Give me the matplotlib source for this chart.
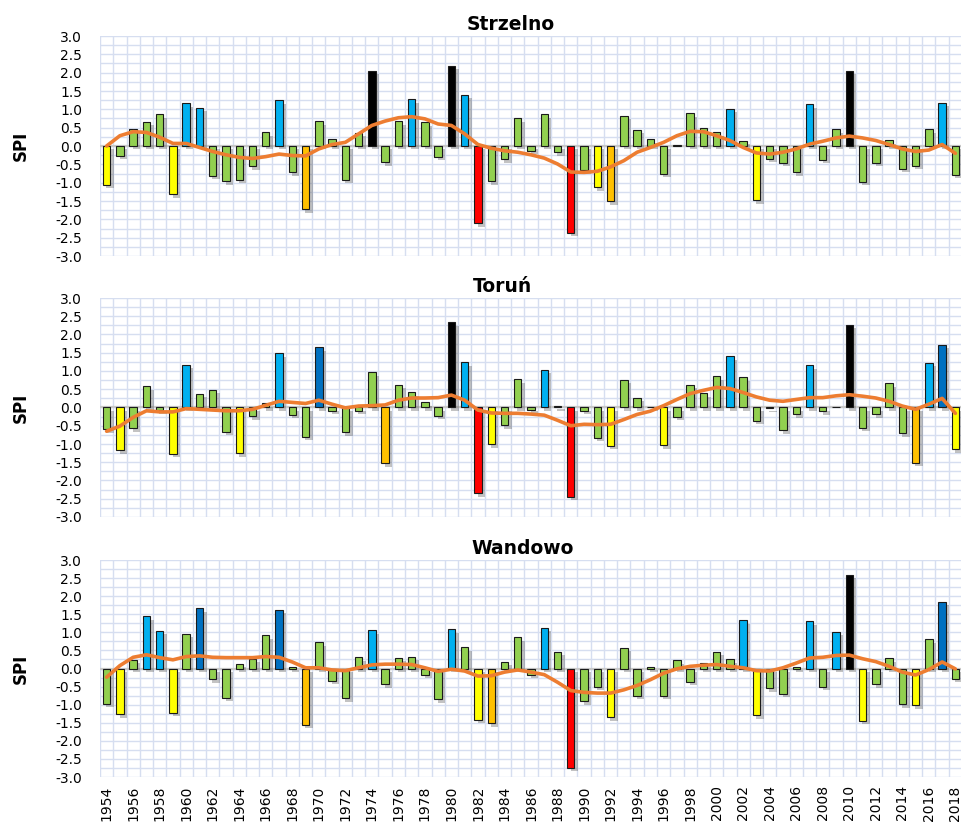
import matplotlib
matplotlib.use("Agg")
import matplotlib.pyplot as plt
import matplotlib.patheffects as pe
import numpy as np

years = list(range(1954, 2019))

stations = ["Strzelno", "Toruń", "Wandowo"]

spi_strzelno = [-1.06, -0.26, 0.47, 0.66, 0.87, -1.32, 1.17, 1.04, -0.81, -0.96,
                -0.92, -0.55, 0.37, 1.25, -0.71, -1.73, 0.68, 0.19, -0.92, 0.36,
                2.05, -0.44, 0.68, 1.28, 0.65, -0.30, 2.19, 1.40, -2.11, -0.96,
                -0.36, 0.76, -0.13, 0.86, -0.17, -2.37, -0.66, -1.13, -1.51, 0.83,
                0.44, 0.18, -0.76, 0.02, 0.89, 0.49, 0.37, 1.01, 0.14, -1.48,
                -0.35, -0.46, -0.71, 1.14, -0.37, 0.46, 2.05, -0.97, -0.46, 0.16,
                -0.62, -0.54, 0.46, 1.18, -0.79]

trend_strzelno = [0.00, 0.28, 0.39, 0.37, 0.24, 0.07, 0.07, -0.04, -0.15, -0.24,
                  -0.31, -0.34, -0.29, -0.22, -0.26, -0.27, -0.08, 0.04, 0.10, 0.33,
                  0.56, 0.68, 0.77, 0.80, 0.74, 0.60, 0.56, 0.33, 0.04, -0.06,
                  -0.13, -0.17, -0.24, -0.33, -0.49, -0.71, -0.72, -0.69, -0.57, -0.40,
                  -0.17, -0.04, 0.10, 0.28, 0.40, 0.39, 0.28, 0.15, -0.04, -0.19,
                  -0.22, -0.17, -0.08, 0.05, 0.13, 0.22, 0.27, 0.22, 0.15, 0.04,
                  -0.08, -0.15, -0.11, 0.04, -0.20]

spi_torun = [-0.60, -1.17, -0.57, 0.58, -0.07, -1.27, 1.17, 0.37, 0.48, -0.66,
             -1.25, -0.24, 0.12, 1.49, -0.20, -0.80, 1.65, -0.09, -0.68, -0.09,
             0.96, -1.53, 0.63, 0.42, 0.14, -0.23, 2.33, 1.24, -2.35, -1.01,
             -0.49, 0.78, -0.06, 1.03, 0.05, -2.44, -0.09, -0.83, -1.05, 0.76,
             0.27, 0.02, -1.03, -0.26, 0.63, 0.39, 0.85, 1.40, 0.83, -0.37,
             -0.02, -0.63, -0.19, 1.16, -0.10, 0.01, 2.26, -0.55, -0.18, 0.67,
             -0.70, -1.52, 1.22, 1.72, -1.14]

trend_torun = [-0.65, -0.51, -0.27, -0.09, -0.12, -0.12, -0.03, -0.05, -0.07, -0.09,
               -0.09, -0.05, 0.06, 0.17, 0.14, 0.11, 0.20, 0.09, -0.01, 0.04,
               0.05, 0.07, 0.20, 0.26, 0.26, 0.27, 0.34, 0.20, -0.07, -0.15,
               -0.16, -0.16, -0.18, -0.21, -0.35, -0.50, -0.46, -0.47, -0.46, -0.33,
               -0.19, -0.10, 0.05, 0.22, 0.38, 0.47, 0.55, 0.52, 0.41, 0.29,
               0.20, 0.17, 0.22, 0.27, 0.27, 0.32, 0.35, 0.31, 0.26, 0.17,
               0.04, -0.05, 0.09, 0.25, -0.16]

spi_wandowo = [-0.97, -1.26, 0.24, 1.44, 1.05, -1.23, 0.96, 1.66, -0.30, -0.81,
               0.13, 0.27, 0.92, 1.63, 0.05, -1.56, 0.73, -0.34, -0.82, 0.31,
               1.06, -0.43, 0.29, 0.33, -0.18, -0.85, 1.08, 0.59, -1.42, -1.51,
               0.18, 0.86, -0.17, 1.12, 0.46, -2.75, -0.90, -0.50, -1.35, 0.57,
               -0.76, 0.05, -0.75, 0.23, -0.36, 0.15, 0.46, 0.26, 1.34, -1.29,
               -0.55, -0.70, 0.05, 1.31, -0.50, 1.02, 2.59, -1.44, -0.44, 0.28,
               -0.99, -1.02, 0.81, 1.84, -0.28]

trend_wandowo = [-0.24, 0.08, 0.31, 0.38, 0.30, 0.24, 0.33, 0.35, 0.31, 0.30,
                 0.30, 0.30, 0.33, 0.31, 0.18, 0.02, 0.02, -0.04, -0.06, 0.02,
                 0.10, 0.12, 0.12, 0.11, 0.02, -0.08, -0.02, -0.07, -0.21, -0.20,
                 -0.10, -0.04, -0.10, -0.17, -0.38, -0.61, -0.66, -0.68, -0.68, -0.59,
                 -0.47, -0.31, -0.13, -0.01, 0.06, 0.09, 0.11, 0.06, 0.02, -0.06,
                 -0.07, 0.02, 0.15, 0.29, 0.31, 0.36, 0.37, 0.27, 0.19, 0.06,
                 -0.10, -0.18, -0.03, 0.18, -0.01]

spi_data = [spi_strzelno, spi_torun, spi_wandowo]
trend_data = [trend_strzelno, trend_torun, trend_wandowo]

y_ticks = [3.0, 2.5, 2.0, 1.5, 1.0, 0.5, 0.0, -0.5, -1.0, -1.5, -2.0, -2.5, -3.0]


def spi_color(v):
    if v <= -2.0:
        return "#FF0000"
    if v <= -1.5:
        return "#FFC000"
    if v <= -1.0:
        return "#FFFF00"
    if v < 1.0:
        return "#92D050"
    if v < 1.5:
        return "#00B0F0"
    if v < 2.0:
        return "#0070C0"
    return "#000000"


W, H = 962, 822
fig = plt.figure(figsize=(W / 100, H / 100), dpi=100)

# panel pixel extents (top, bottom) of the plot area
panels_px = [(36, 256), (298, 517), (560, 777)]
title_x = [0.477, 0.467, 0.490]
left_px, right_px = 100, 962

x = np.arange(len(years))
grid_color = "#D6DEF0"

for k, (name, vals, trend) in enumerate(zip(stations, spi_data, trend_data)):
    top, bot = panels_px[k]
    ax = fig.add_axes([left_px / W, 1 - bot / H, (right_px - left_px) / W, (bot - top) / H])
    ax.set_xlim(-0.5, len(years) - 0.5)
    ax.set_ylim(-3.0, 3.0)

    # grid
    for gx in np.arange(-0.5, len(years) + 0.5, 1.0):
        ax.axvline(gx, color=grid_color, lw=1.0, zorder=0)
    for gy in np.arange(-3.0, 3.01, 0.25):
        ax.axhline(gy, color=grid_color, lw=1.0, zorder=0)
    ax.axhline(0, color="#C8C8C8", lw=1.6, zorder=1)

    colors = [spi_color(v) for v in vals]
    bars = ax.bar(x, vals, width=0.56, color=colors, edgecolor="#1a1a1a",
                  linewidth=0.8, zorder=2)
    for b in bars:
        b.set_path_effects([pe.SimplePatchShadow(offset=(2.5, -2.5), shadow_rgbFace="#555555",
                                                 alpha=0.35), pe.Normal()])

    ax.plot(x, trend, color="#ED7D31", lw=2.6, zorder=4, solid_capstyle="round")

    for s in ax.spines.values():
        s.set_visible(False)

    ax.set_yticks(y_ticks)
    ax.set_yticklabels([f"{t:.1f}" for t in y_ticks], fontsize=10)
    ax.tick_params(axis="y", length=0, pad=13)
    ax.set_ylabel("SPI", fontsize=12, fontweight="bold")
    ax.yaxis.set_label_coords(-0.082, 0.5)

    if k == 2:
        ax.set_xticks(x[::2])
        ax.set_xticklabels([str(y) for y in years[::2]], rotation=90, fontsize=10)
        ax.tick_params(axis="x", length=0, pad=6)
    else:
        ax.set_xticks([])

    ax.text(title_x[k], 1.052, name, transform=ax.transAxes, ha="center", va="center",
            fontsize=13.5, fontweight="bold")

fig.savefig("out.png", dpi=100)
